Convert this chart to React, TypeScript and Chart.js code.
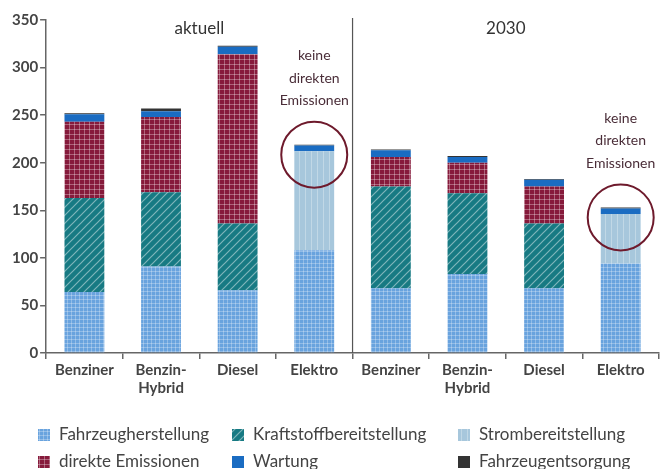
import React, { useEffect, useRef } from "react";
import { Chart, registerables } from "chart.js";

Chart.register(...registerables);

const categories: (string | string[])[] = [
  "Benziner", ["Benzin-", "Hybrid"], "Diesel", "Elektro",
  "Benziner", ["Benzin-", "Hybrid"], "Diesel", "Elektro",
];
const groupTitles = ["aktuell", "2030"];
const annotationLines = ["keine", "direkten", "Emissionen"];

const fahrzeugherstellung = [64, 91, 66, 108, 68, 83, 68, 94];
const kraftstoffbereitstellung = [99, 78, 70, 0, 107, 85, 68, 0];
const strombereitstellung = [0, 0, 0, 104, 0, 0, 0, 52];
const direkteEmissionen = [80, 79, 178, 0, 31, 32, 39, 0];
const wartung = [8, 6, 8, 6, 7, 6, 7, 6];
const fahrzeugentsorgung = [1, 3, 1, 1, 1, 1, 1, 1];

const yTicks = [0, 50, 100, 150, 200, 250, 300, 350];

const FONT = "Lato, 'Open Sans', sans-serif";

function makePattern(bg: string, kind: string): CanvasPattern | string {
  const size = kind === "diag" ? 8 : kind === "vert" ? 6 : kind === "gridL" ? 5 : 4;
  const c = document.createElement("canvas");
  c.width = size;
  c.height = size;
  const ctx = c.getContext("2d");
  if (!ctx) return bg;
  ctx.fillStyle = bg;
  ctx.fillRect(0, 0, size, size);
  if (kind === "grid" || kind === "gridL") {
    ctx.fillStyle = kind === "grid" ? "rgba(255,255,255,0.28)" : "rgba(255,255,255,0.32)";
    ctx.fillRect(size - 1, 0, 1, size);
    ctx.fillRect(0, size - 1, size, 1);
  } else if (kind === "diag") {
    ctx.strokeStyle = "rgba(255,255,255,0.45)";
    ctx.lineWidth = 1.2;
    ctx.beginPath();
    ctx.moveTo(0, size);
    ctx.lineTo(size, 0);
    ctx.moveTo(-size / 2, size / 2);
    ctx.lineTo(size / 2, -size / 2);
    ctx.moveTo(size / 2, size * 1.5);
    ctx.lineTo(size * 1.5, size / 2);
    ctx.stroke();
  } else if (kind === "vert") {
    ctx.fillStyle = "rgba(255,255,255,0.3)";
    ctx.fillRect(size - 1, 0, 1, size);
  }
  return ctx.createPattern(c, "repeat") || bg;
}

export default function App() {
  const ref = useRef<HTMLCanvasElement | null>(null);

  useEffect(() => {
    if (!ref.current) return;
    const fills = {
      fahrzeug: makePattern("#69a3de", "grid"),
      kraft: makePattern("#177a83", "diag"),
      strom: makePattern("#a7c7dc", "vert"),
      direkt: makePattern("#861a3b", "gridL"),
      wartung: "#1a6cc2",
      entsorgung: "#333333",
    };

    const datasets = [
      { label: "Fahrzeugherstellung", data: fahrzeugherstellung, backgroundColor: fills.fahrzeug },
      { label: "Kraftstoffbereitstellung", data: kraftstoffbereitstellung, backgroundColor: fills.kraft },
      { label: "Strombereitstellung", data: strombereitstellung, backgroundColor: fills.strom },
      { label: "direkte Emissionen", data: direkteEmissionen, backgroundColor: fills.direkt },
      { label: "Wartung", data: wartung, backgroundColor: fills.wartung },
      { label: "Fahrzeugentsorgung", data: fahrzeugentsorgung, backgroundColor: fills.entsorgung },
    ].map((d) => ({ ...d, barPercentage: 0.52, categoryPercentage: 1, borderWidth: 0 }));

    const legendOrder = [0, 1, 2, 3, 4, 5];
    const legendCols = [38, 232, 458];
    const legendRows = [435, 462];

    const overlay = {
      id: "overlay",
      afterDatasetsDraw(chart: any) {
        const { ctx, chartArea, scales } = chart;
        const x = scales.x;
        const y = scales.y;
        ctx.save();
        // group separator
        const sepX = (x.getPixelForValue(3) + x.getPixelForValue(4)) / 2;
        ctx.strokeStyle = "#555";
        ctx.lineWidth = 1.2;
        ctx.beginPath();
        ctx.moveTo(sepX, chartArea.top - 2);
        ctx.lineTo(sepX, chartArea.bottom);
        ctx.stroke();

        // group titles
        ctx.fillStyle = "#333";
        ctx.font = `17px ${FONT}`;
        ctx.textAlign = "center";
        ctx.textBaseline = "middle";
        const g1 = (chartArea.left + sepX) / 2;
        const g2 = (sepX + chartArea.right) / 2;
        ctx.fillText(groupTitles[0], g1, chartArea.top + 9);
        ctx.fillText(groupTitles[1], g2, chartArea.top + 9);

        // annotations on Elektro bars
        [3, 7].forEach((i) => {
          const total =
            fahrzeugherstellung[i] + kraftstoffbereitstellung[i] + strombereitstellung[i] +
            direkteEmissionen[i] + wartung[i] + fahrzeugentsorgung[i];
          const cx = x.getPixelForValue(i);
          const cy = y.getPixelForValue(total) + 10;
          const r = 33;
          ctx.strokeStyle = "#6e1a2c";
          ctx.lineWidth = 2;
          ctx.beginPath();
          ctx.arc(cx, cy, r, 0, Math.PI * 2);
          ctx.stroke();
          ctx.fillStyle = "#4a2d38";
          ctx.font = `14px ${FONT}`;
          const lastY = cy - r - 21;
          annotationLines.forEach((t, k) => {
            ctx.fillText(t, cx, lastY - (annotationLines.length - 1 - k) * 22.5);
          });
        });

        // legend
        ctx.textAlign = "left";
        ctx.textBaseline = "middle";
        ctx.font = `17px ${FONT}`;
        legendOrder.forEach((di, k) => {
          const col = k % 3;
          const row = Math.floor(k / 3);
          const bx = legendCols[col];
          const by = legendRows[row];
          ctx.fillStyle = chart.data.datasets[di].backgroundColor;
          ctx.fillRect(bx, by - 6, 12, 12);
          ctx.fillStyle = "#444";
          ctx.fillText(chart.data.datasets[di].label, bx + 21, by);
        });
        ctx.restore();
      },
    };

    const chart = new Chart(ref.current, {
      type: "bar",
      data: { labels: categories, datasets },
      options: {
        responsive: false,
        animation: false,
        layout: { padding: { left: 10, right: 1, top: 20, bottom: 70 } },
        plugins: { legend: { display: false }, tooltip: { enabled: false } },
        scales: {
          x: {
            stacked: true,
            offset: true,
            border: { color: "#666", width: 1.5 },
            grid: { offset: true, drawOnChartArea: false, drawTicks: true, tickLength: 6, color: "#666", lineWidth: 1.5 },
            ticks: { color: "#444", font: { family: FONT, size: 15, weight: "bold" }, padding: 2, maxRotation: 0, autoSkip: false },
          },
          y: {
            stacked: true,
            min: 0,
            max: 350,
            afterBuildTicks: (axis: any) => {
              axis.ticks = yTicks.map((v) => ({ value: v }));
            },
            border: { color: "#666", width: 1.5 },
            grid: { drawOnChartArea: false, drawTicks: true, tickLength: 6, color: "#666", lineWidth: 1.5 },
            ticks: { color: "#444", font: { family: FONT, size: 15, weight: "bold" }, padding: 2 },
          },
        },
      },
      plugins: [overlay],
    } as any);
    return () => chart.destroy();
  }, []);

  return (
    <div style={{ position: "absolute", left: 0, top: 0, width: 660, height: 469, background: "#fff" }}>
      <canvas ref={ref} width={660} height={469} style={{ display: "block" }} />
    </div>
  );
}
